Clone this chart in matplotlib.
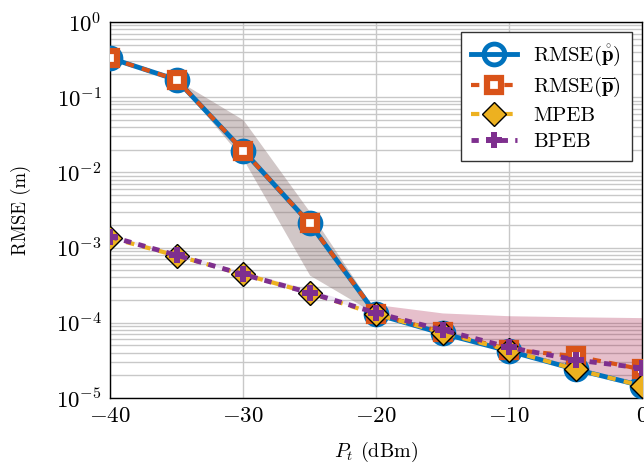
import numpy as np
import matplotlib
matplotlib.use("Agg")
import matplotlib.pyplot as plt
from matplotlib.ticker import LogLocator, NullFormatter

plt.rcParams['font.family'] = 'serif'
plt.rcParams['font.serif'] = ['cmr10', 'DejaVu Serif']
plt.rcParams['mathtext.fontset'] = 'cm'
plt.rcParams['axes.formatter.use_mathtext'] = True

# transmit power (dBm)
pt = [-40, -35, -30, -25, -20, -15, -10, -5, 0]

# values
rmse_ring = [0.33, 0.17, 0.0195, 0.0021, 1.3e-4, 7.2e-5, 4.2e-5, 2.4e-5, 1.45e-5]
rmse_bar = [0.33, 0.17, 0.0195, 0.0021, 1.3e-4, 7.5e-5, 4.4e-5, 3.6e-5, 2.4e-5]
mpeb = [1.35e-3, 7.8e-4, 4.4e-4, 2.5e-4, 1.3e-4, 7.4e-5, 4.3e-5, 2.4e-5, 1.45e-5]
bpeb = [1.4e-3, 7.9e-4, 4.4e-4, 2.5e-4, 1.35e-4, 8.0e-5, 4.7e-5, 3.2e-5, 2.5e-5]

# spread of the estimates
gray_x = [-35, -30, -25, -20]
gray_hi = [0.17, 0.05, 0.003, 1.4e-4]
gray_lo = [0.17, 0.015, 4.3e-4, 1.3e-4]
pink_x = [-20, -15, -10, -5, 0]
pink_hi = [1.75e-4, 1.35e-4, 1.24e-4, 1.2e-4, 1.17e-4]
pink_lo = [1.3e-4, 7.2e-5, 4.2e-5, 2.4e-5, 1.45e-5]
lav_x = [-40, -35, -30, -25, -20]
lav_hi = [1.5e-3, 8.5e-4, 4.8e-4, 2.8e-4, 1.5e-4]
lav_lo = [1.35e-3, 7.8e-4, 4.4e-4, 2.5e-4, 1.3e-4]

fig = plt.figure(figsize=(6.44, 4.66), dpi=100)
ax = fig.add_axes([0.171, 0.146, 0.826, 0.807])

ax.fill_between(gray_x, gray_lo, gray_hi, color=(0.55, 0.45, 0.45), alpha=0.4, lw=0, zorder=1)
ax.fill_between(pink_x, pink_lo, pink_hi, color=(0.64, 0.08, 0.25), alpha=0.27, lw=0, zorder=1)
ax.fill_between(lav_x, lav_lo, lav_hi, color=(0.6, 0.4, 0.75), alpha=0.15, lw=0, zorder=1)

ax.plot(pt, rmse_ring, color='#0072BD', lw=3.5, marker='o', ms=15, mfc='none',
        mew=3.5, label=r'RMSE$(\mathring{\mathbf{p}})$', zorder=3)
ax.plot(pt, rmse_bar, color='#D95319', lw=3, ls=(0, (2, 2)), marker='s', ms=10, mfc='white',
        mew=4.5, label=r'RMSE$(\overline{\mathbf{p}})$', zorder=4)
ax.plot(pt, mpeb, color='#EDB120', lw=3, ls=(0, (2, 2)), marker='D', ms=12, mfc='#EDB120',
        mec='black', mew=1, label='MPEB', zorder=5)
ax.plot(pt, bpeb, color='#7E2F8E', lw=3.5, ls=(0, (1.5, 1.5)), marker='P', ms=11,
        mew=0, label='BPEB', zorder=6)

ax.set_yscale('log')
ax.set_xlim(-40, 0)
ax.set_ylim(1e-5, 1)
ax.set_xticks([-40, -30, -20, -10, 0])
ax.yaxis.set_major_locator(LogLocator(base=10, numticks=10))
ax.yaxis.set_minor_locator(LogLocator(base=10, subs=np.arange(2, 10), numticks=20))
ax.yaxis.set_minor_formatter(NullFormatter())
ax.grid(True, which='major', color='#c8c8c8', lw=1)
ax.grid(True, which='minor', axis='y', color='#c8c8c8', lw=1)
ax.set_axisbelow(True)
ax.tick_params(which='both', direction='in', length=0, labelsize=16.5, pad=6)
for s in ax.spines.values():
    s.set_linewidth(1)

ax.set_xlabel(r'$P_t$ (dBm)', fontsize=14.5, labelpad=10)
ax.set_ylabel('RMSE (m)', fontsize=13.5, labelpad=18)

leg = ax.legend(loc='upper right', fontsize=15, handlelength=2.2, fancybox=False,
                edgecolor='#333333', framealpha=1, borderaxespad=0.5, labelspacing=0.35,
                borderpad=0.5)
leg.get_frame().set_linewidth(1)

fig.savefig('out.png', dpi=100)
